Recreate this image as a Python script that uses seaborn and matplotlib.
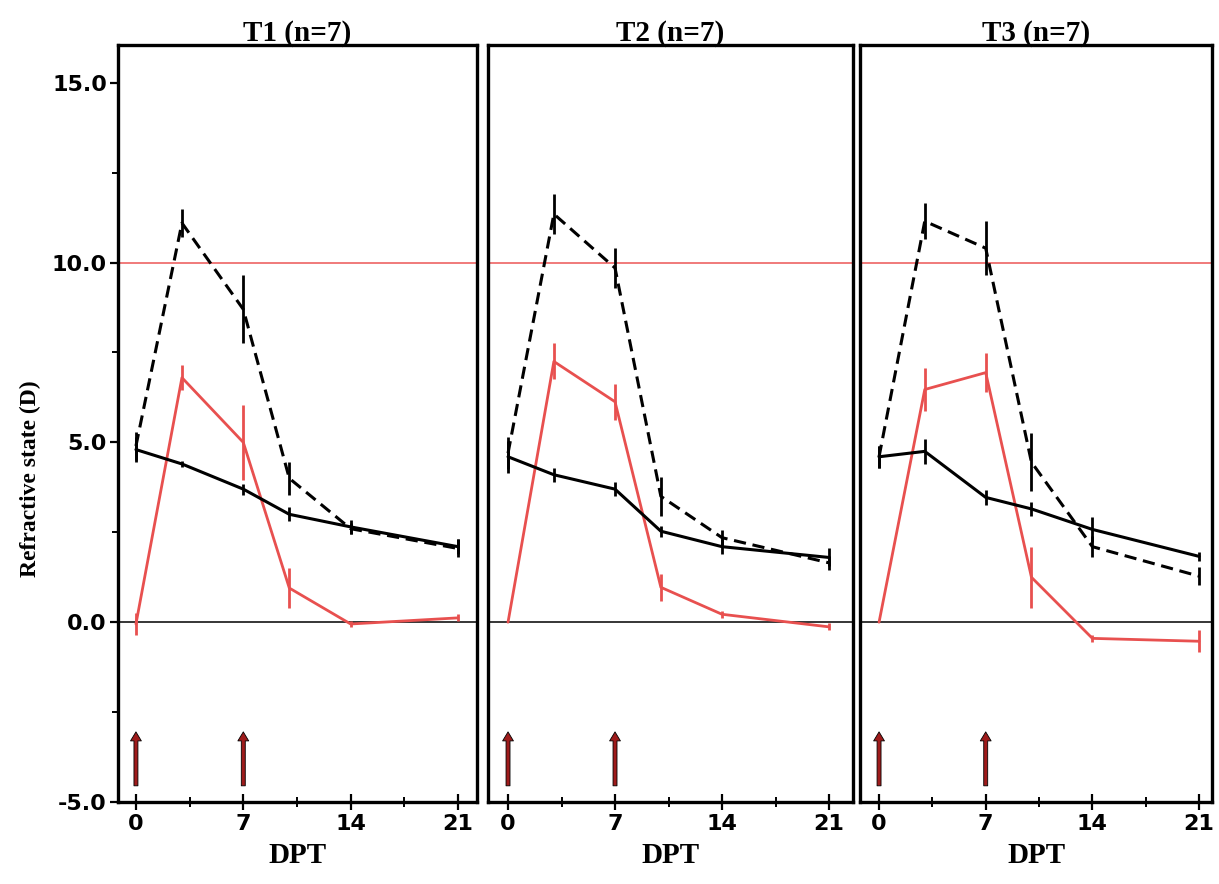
import numpy as np
import pandas as pd
import matplotlib
matplotlib.use("Agg")
import matplotlib.pyplot as plt
from matplotlib.ticker import MultipleLocator, FormatStrFormatter
import seaborn as sns

# ---------------- data ----------------
days = [0, 3, 7, 10, 14, 21]
panel_titles = ["T1 (n=7)", "T2 (n=7)", "T3 (n=7)"]
treatment_days = [0, 7]
hyperopia_ref = 10.0

t1_control = [4.8, 4.4, 3.7, 3.0, 2.65, 2.1]
t1_control_err = [0.35, 0.08, 0.15, 0.2, 0.2, 0.2]
t1_treated = [4.9, 11.1, 8.7, 4.0, 2.6, 2.05]
t1_treated_err = [0.4, 0.4, 0.95, 0.45, 0.15, 0.25]
t1_diff = [-0.05, 6.8, 5.0, 0.95, -0.05, 0.12]
t1_diff_err = [0.3, 0.35, 1.05, 0.55, 0.08, 0.1]

t2_control = [4.6, 4.1, 3.7, 2.53, 2.1, 1.8]
t2_control_err = [0.45, 0.2, 0.2, 0.15, 0.2, 0.25]
t2_treated = [4.7, 11.35, 9.85, 3.5, 2.35, 1.65]
t2_treated_err = [0.45, 0.55, 0.55, 0.55, 0.2, 0.2]
t2_diff = [0.0, 7.25, 6.13, 0.97, 0.22, -0.13]
t2_diff_err = [0.0, 0.5, 0.5, 0.37, 0.1, 0.1]

t3_control = [4.6, 4.75, 3.47, 3.15, 2.58, 1.83]
t3_control_err = [0.3, 0.35, 0.2, 0.2, 0.35, 0.12]
t3_treated = [4.6, 11.15, 10.4, 4.45, 2.1, 1.28]
t3_treated_err = [0.3, 0.5, 0.75, 0.8, 0.3, 0.25]
t3_diff = [0.0, 6.47, 6.94, 1.25, -0.45, -0.53]
t3_diff_err = [0.0, 0.6, 0.55, 0.85, 0.1, 0.3]

panels = [
    (t1_control, t1_control_err, t1_treated, t1_treated_err, t1_diff, t1_diff_err),
    (t2_control, t2_control_err, t2_treated, t2_treated_err, t2_diff, t2_diff_err),
    (t3_control, t3_control_err, t3_treated, t3_treated_err, t3_diff, t3_diff_err),
]

# ---------------- style ----------------
sns.set_style("ticks")
plt.rcParams["font.family"] = ["DejaVu Sans"]
plt.rcParams["text.color"] = "black"
plt.rcParams["xtick.color"] = "black"
plt.rcParams["ytick.color"] = "black"
plt.rcParams["axes.labelcolor"] = "black"
RED = "#e8504f"
REF_RED = "#ef6f6f"
ARROW_RED = "#9e1b1b"
SERIF = "Liberation Serif"

fig = plt.figure(figsize=(12.19, 8.84), dpi=100)
W, H = 1219, 884
boxes = [(118, 477), (488, 853), (860, 1212)]
top_px, bot_px = 45, 802
xlims = [(-1.17, 22.24), (-1.31, 22.57), (-1.25, 21.85)]

for i, ((l, r), (ctrl, ctrl_e, trt, trt_e, dif, dif_e)) in enumerate(zip(boxes, panels)):
    ax = fig.add_axes([l / W, 1 - bot_px / H, (r - l) / W, (bot_px - top_px) / H])
    df = pd.DataFrame({"DPT": days * 3,
                       "value": ctrl + trt + dif,
                       "series": ["control"] * 6 + ["treated"] * 6 + ["diff"] * 6})
    err = np.array(ctrl_e + trt_e + dif_e)

    ax.axhline(hyperopia_ref, color=REF_RED, lw=1.3, zorder=1)
    ax.axhline(0, color="black", lw=1.1, zorder=1)

    sub = df[df.series == "diff"]
    sns.lineplot(data=sub, x="DPT", y="value", ax=ax, color=RED, lw=2.0,
                 errorbar=None, legend=False, zorder=3)
    ax.errorbar(sub["DPT"], sub["value"], yerr=err[12:], fmt="none",
                ecolor=RED, elinewidth=2.0, capsize=0, zorder=3)

    sub = df[df.series == "control"]
    sns.lineplot(data=sub, x="DPT", y="value", ax=ax, color="black", lw=2.2,
                 errorbar=None, legend=False, zorder=4)
    ax.errorbar(sub["DPT"], sub["value"], yerr=err[:6], fmt="none",
                ecolor="black", elinewidth=2.0, capsize=0, zorder=4)

    sub = df[df.series == "treated"]
    sns.lineplot(data=sub, x="DPT", y="value", ax=ax, color="black", lw=2.2,
                 errorbar=None, legend=False, zorder=4, dashes=False)
    ax.lines[-1].set_dashes((4.0, 2.2))
    ax.errorbar(sub["DPT"], sub["value"], yerr=err[6:12], fmt="none",
                ecolor="black", elinewidth=2.0, capsize=0, zorder=4)

    for d in treatment_days:
        ax.annotate("", xy=(d, -3.05), xytext=(d, -4.55),
                    arrowprops=dict(arrowstyle="simple,head_width=0.6,head_length=0.5,tail_width=0.22",
                                    fc=ARROW_RED, ec="black", lw=0.6, mutation_scale=13,
                                    shrinkA=0, shrinkB=0), zorder=5)

    ax.set_xlim(*xlims[i])
    ax.set_ylim(-5.0, 16.05)
    ax.xaxis.set_major_locator(MultipleLocator(7))
    ax.xaxis.set_minor_locator(MultipleLocator(3.5))
    ax.yaxis.set_major_locator(MultipleLocator(5))
    ax.yaxis.set_minor_locator(MultipleLocator(2.5))
    ax.yaxis.set_major_formatter(FormatStrFormatter("%.1f"))
    for s in ax.spines.values():
        s.set_visible(True)
        s.set_linewidth(2.4)
        s.set_color("black")
    ax.tick_params(axis="x", which="major", direction="inout", length=11, width=1.6,
                   labelsize=16, pad=3, colors="black")
    ax.tick_params(axis="x", which="minor", direction="inout", length=7, width=1.4, colors="black")
    ax.tick_params(axis="y", which="major", direction="out", length=6, width=1.6,
                   labelsize=16, pad=2, colors="black")
    ax.tick_params(axis="y", which="minor", direction="out", length=4, width=1.4, colors="black")
    for lab in ax.get_xticklabels() + ax.get_yticklabels():
        lab.set_fontweight("bold")
    if i > 0:
        ax.tick_params(axis="y", which="both", left=False, labelleft=False)
    ax.set_ylabel("")
    ax.set_xlabel("DPT", fontfamily=SERIF, fontweight="bold", fontsize=21, labelpad=6,
                  color="black")
    ax.text(0.5, 1.006, panel_titles[i], transform=ax.transAxes, ha="center",
            va="baseline", fontfamily=SERIF, fontweight="bold", fontsize=21, color="black")

fig.text(30 / W, 1 - 479 / H, "Refractive state (D)", rotation=90, ha="center",
         va="center", fontfamily=SERIF, fontweight="bold", fontsize=17, color="black")

fig.savefig("out.png", dpi=100, facecolor="white")
